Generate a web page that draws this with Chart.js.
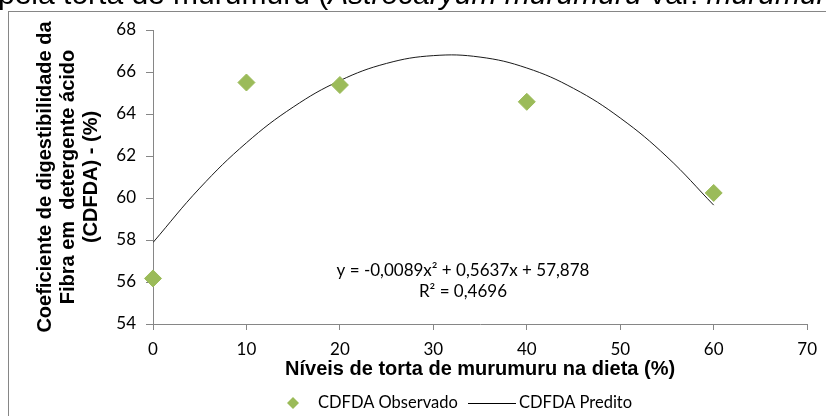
<!DOCTYPE html>
<html>
<head>
<meta charset="utf-8">
<script src="https://cdn.jsdelivr.net/npm/chart.js@4"></script>
<style>
  html, body { margin: 0; padding: 0; background: #fff; overflow: hidden; }
  #wrap { position: relative; width: 826px; height: 416px; }
  #cap {
    position: absolute; left: -2px; top: -21px; white-space: nowrap;
    font-family: "Liberation Sans", Arial, sans-serif; font-size: 30px; line-height: 30px; color: #000;
  }
  canvas { position: absolute; left: 0; top: 0; }
</style>
</head>
<body>
<div id="wrap">
  <canvas id="chart" width="826" height="416"></canvas>
  <div id="cap">pela torta de murumuru (<i>Astrocaryum murumuru</i> var. <i>murumuru</i>)</div>
</div>
<script>
// observed digestibility
const levels = [0, 10, 20, 40, 60]
const observed = [56.17, 65.5, 65.38, 64.58, 60.24]

// predicted curve
const predLevels = [0, 5, 10, 15, 20, 25, 30, 35, 40, 45, 50, 55, 60]
const predicted = [57.88, 60.47, 62.63, 64.33, 65.59, 66.41, 66.78, 66.71, 66.19, 65.22, 63.81, 61.96, 59.66]

const xTicks = [0, 10, 20, 30, 40, 50, 60, 70]
const yTicks = [54, 56, 58, 60, 62, 64, 66, 68]

const GREEN = '#9BBB59'
const AXIS = '#868686'
const NARROW = 'Lato, "Open Sans", sans-serif'
const ARIAL = '"Liberation Sans", Arial, sans-serif'

const extras = {
    id: 'extras',
    afterDraw(chart) {
        const ctx = chart.ctx;
        ctx.save();
        // outer frame
        ctx.strokeStyle = AXIS;
        ctx.lineWidth = 1;
        ctx.strokeRect(8.5, 11.5, 840, 420);

        // equation
        ctx.fillStyle = '#000';
        ctx.font = '17px ' + NARROW;
        ctx.textAlign = 'center';
        ctx.textBaseline = 'middle';
        ctx.fillText('y = -0,0089x² + 0,5637x + 57,878', 463, 271);
        ctx.fillText('R² = 0,4696', 463, 292);

        // legend
        const ly = 403;
        ctx.fillStyle = GREEN;
        ctx.beginPath();
        ctx.moveTo(293, ly - 6); ctx.lineTo(299, ly); ctx.lineTo(293, ly + 6); ctx.lineTo(287, ly);
        ctx.closePath(); ctx.fill();
        ctx.fillStyle = '#000';
        ctx.textAlign = 'left';
        ctx.font = '16.5px ' + NARROW;
        ctx.fillText(chart.data.datasets[0].label, 318, ly);
        ctx.strokeStyle = '#000';
        ctx.beginPath();
        ctx.moveTo(468, ly + 0.5); ctx.lineTo(516, ly + 0.5);
        ctx.stroke();
        ctx.fillText(chart.data.datasets[1].label, 519, ly);
        ctx.restore();
    }
}

const ctx = document.getElementById('chart').getContext('2d');
new Chart(ctx, {
    data: {
        datasets: [{
            type: 'scatter',
            label: 'CDFDA Observado',
            data: levels.map((x, i) => ({x: x, y: observed[i]})),
            backgroundColor: GREEN,
            borderColor: GREEN,
            pointStyle: 'rectRot',
            pointRadius: 8.5,
            pointHoverRadius: 8.5,
            clip: false,
            order: 1
        }, {
            type: 'line',
            label: 'CDFDA Predito',
            data: predLevels.map((x, i) => ({x: x, y: predicted[i]})),
            borderColor: '#1a1a1a',
            borderWidth: 1,
            pointRadius: 0,
            tension: 0.4,
            fill: false,
            order: 2
        }]
    },
    options: {
        responsive: false,
        animation: false,
        layout: { padding: { left: 0, top: 30, right: 13, bottom: 32 } },
        scales: {
            x: {
                type: 'linear',
                min: 0, max: 70,
                afterBuildTicks: s => { s.ticks = xTicks.map(v => ({value: v})) },
                afterFit: s => { s.height = 60 },
                grid: { drawOnChartArea: false, drawTicks: true, tickLength: 6, color: AXIS },
                border: { color: AXIS },
                ticks: { color: '#000', font: { family: NARROW, size: 17 }, padding: 9 },
                title: {
                    display: true,
                    text: 'Níveis de torta de murumuru na dieta (%)',
                    color: '#000',
                    font: { family: ARIAL, size: 20, weight: 'bold', lineHeight: '20px' },
                    padding: { top: 0, bottom: 5 }
                }
            },
            y: {
                min: 54, max: 68,
                afterBuildTicks: s => { s.ticks = yTicks.map(v => ({value: v})) },
                afterFit: s => { s.width = 153 },
                grid: { drawOnChartArea: false, drawTicks: true, tickLength: 7, color: AXIS },
                border: { color: AXIS },
                ticks: { color: '#000', font: { family: NARROW, size: 17 }, padding: 10 },
                title: {
                    display: true,
                    text: ['Coeficiente de digestibilidade da', 'Fibra em  detergente ácido', '(CDFDA) - (%)'],
                    color: '#000',
                    font: { family: ARIAL, size: 20, weight: 'bold', lineHeight: '23px' },
                    padding: { top: 34, bottom: 0 }
                }
            }
        },
        plugins: {
            legend: { display: false },
            tooltip: { enabled: false }
        }
    },
    plugins: [extras]
});
</script>
</body>
</html>
